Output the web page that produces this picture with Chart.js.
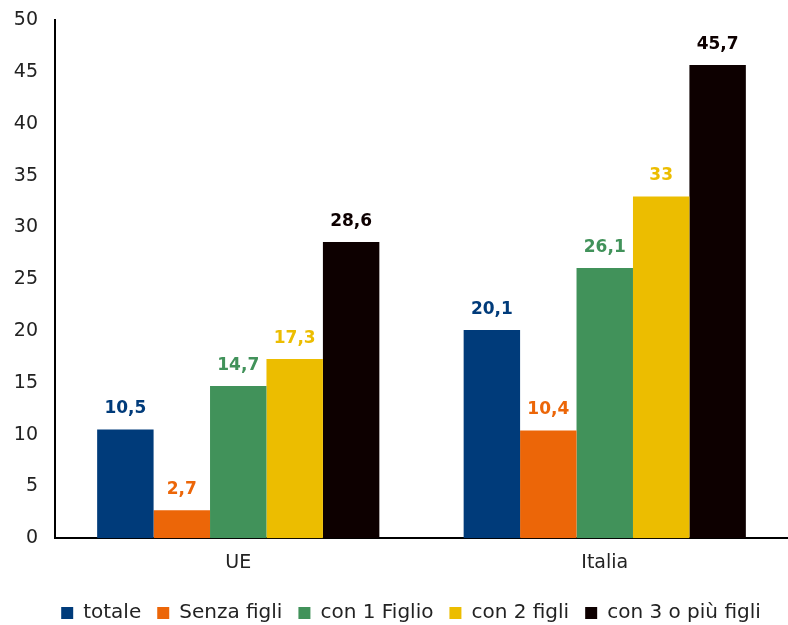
<!DOCTYPE html>
<html>
<head>
<meta charset="utf-8">
<script src="https://cdn.jsdelivr.net/npm/chart.js@4"></script>
<style>
  html, body { margin: 0; padding: 0; background: #fff; }
  #wrap { width: 788px; height: 625px; position: relative; }
</style>
</head>
<body>
<div id="wrap"><canvas id="chart"></canvas></div>
<script>
const categories = ['UE', 'Italia'];
const seriesNames = ['totale', 'Senza figli', 'con 1 Figlio', 'con 2 figli', 'con 3 o più figli'];
const totale = [10.5, 20.1];
const senzaFigli = [2.7, 10.4];
const con1Figlio = [14.7, 26.1];
const con2Figli = [17.3, 33];
const con3Figli = [28.6, 45.7];
const yTicks = [0, 5, 10, 15, 20, 25, 30, 35, 40, 45, 50];

const colors = ['#003b7a', '#ec6608', '#41925a', '#ecbd00', '#0d0000'];
const FONT = "'DejaVu Sans', sans-serif";

const valueLabels = {
  id: 'valueLabels',
  afterDatasetsDraw(chart) {
    const ctx = chart.ctx;
    ctx.save();
    ctx.font = "bold 17px " + FONT;
    ctx.textAlign = 'center';
    ctx.textBaseline = 'alphabetic';
    chart.data.datasets.forEach((ds, i) => {
      const meta = chart.getDatasetMeta(i);
      ctx.fillStyle = ds.backgroundColor;
      meta.data.forEach((bar, j) => {
        const text = String(ds.data[j]).replace('.', ',');
        ctx.fillText(text, bar.x, bar.y - 16);
      });
    });
    ctx.restore();
  }
};

// nudge the legend a bit right and down, like the original
const legendShift = {
  id: 'legendShift',
  afterLayout(chart) {
    const lg = chart.legend;
    if (!lg) return;
    lg.left += 17; lg.right += 17;
    lg.top += 8; lg.bottom += 8;
  }
};

const datasets = [totale, senzaFigli, con1Figlio, con2Figli, con3Figli].map((values, i) => ({
  label: seriesNames[i],
  data: values,
  backgroundColor: colors[i],
  barPercentage: 1,
  categoryPercentage: 0.77
}));

new Chart(document.getElementById('chart'), {
  type: 'bar',
  data: { labels: categories, datasets },
  options: {
    responsive: true,
    maintainAspectRatio: false,
    animation: false,
    layout: { padding: { top: 2, right: 0, bottom: 0, left: 0 } },
    scales: {
      x: {
        grid: { display: false },
        border: { display: true, color: '#000', width: 2 },
        ticks: { color: '#222', font: { family: FONT, size: 19 }, padding: 5 }
      },
      y: {
        min: 0,
        max: 50,
        afterBuildTicks(scale) {
          scale.ticks = yTicks.map((v) => ({ value: v }));
        },
        afterFit(scale) { scale.width = 55; },
        grid: { display: false },
        border: { display: true, color: '#000', width: 2 },
        ticks: { color: '#222', font: { family: FONT, size: 19 }, padding: 9 }
      }
    },
    plugins: {
      legend: {
        position: 'bottom',
        labels: {
          color: '#222',
          font: { family: FONT, size: 20 },
          boxWidth: 12,
          boxHeight: 12,
          padding: 16
        }
      },
      tooltip: { enabled: false }
    }
  },
  plugins: [valueLabels, legendShift]
});
</script>
</body>
</html>
